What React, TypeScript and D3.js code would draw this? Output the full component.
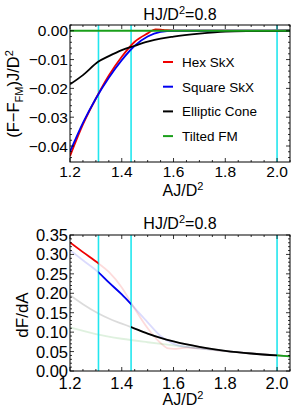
import * as d3 from "d3";

// ---- top panel: (F - F_FM) J/D^2 vs AJ/D^2 ----
const hexA = [1.2, 1.25, 1.3, 1.35, 1.4, 1.45, 1.5, 1.53, 1.56, 1.6, 1.7, 2.05];
const hexF = [-0.0435, -0.0325, -0.0235, -0.0155, -0.009, -0.0038, -0.0009, 0.0005, 0.0003, 0, 0, 0];
const sqA = [1.2, 1.25, 1.3, 1.35, 1.4, 1.45, 1.5, 1.55, 1.6, 1.7, 2.05];
const sqF = [-0.042, -0.032, -0.0235, -0.0163, -0.0102, -0.0052, -0.002, -0.0004, 0, 0, 0];
const coneA = [1.2, 1.25, 1.31, 1.35, 1.4, 1.45, 1.5, 1.55, 1.6, 1.7, 1.8, 1.9, 2.05];
const coneF = [-0.0186, -0.0154, -0.0107, -0.0088, -0.0067, -0.0052, -0.0038, -0.0027, -0.002, -0.001, -0.0003, -0.0001, 0];
const fmA = [1.2, 2.05];
const fmF = [0, 0];

// ---- bottom panel: dF/dA ----
const hexDA = [1.2, 1.25, 1.31, 1.35, 1.4, 1.45, 1.5, 1.55, 1.58, 1.6, 1.65, 1.7, 1.8, 1.9, 2.0, 2.05];
const hexD = [0.331, 0.306, 0.277, 0.255, 0.215, 0.16, 0.11, 0.072, 0.058, 0.057, 0.06, 0.058, 0.051, 0.045, 0.04, 0.038];
const sqDA = [1.2, 1.25, 1.31, 1.35, 1.4, 1.436, 1.5, 1.55, 1.6, 1.65, 1.7, 1.8, 1.9, 2.0, 2.05];
const sqD = [0.311, 0.285, 0.254, 0.228, 0.197, 0.172, 0.125, 0.09, 0.07, 0.062, 0.058, 0.051, 0.045, 0.04, 0.038];
const coneDA = [1.2, 1.25, 1.31, 1.35, 1.4, 1.436, 1.5, 1.55, 1.6, 1.7, 1.8, 1.9, 2.0, 2.05];
const coneD = [0.195, 0.172, 0.148, 0.135, 0.122, 0.113, 0.096, 0.085, 0.076, 0.062, 0.052, 0.045, 0.04, 0.038];
const fmDA = [1.2, 1.3, 1.4, 1.5, 1.6, 1.7, 1.8, 1.9, 2.0, 2.05];
const fmD = [0.112, 0.095, 0.083, 0.074, 0.066, 0.058, 0.051, 0.045, 0.04, 0.038];

// phase boundaries (cyan lines)
const boundaries = [1.31, 1.436, 2.0];

const seriesNames = ["Hex SkX", "Square SkX", "Elliptic Cone", "Tilted FM"];
const colors = ["#f00000", "#0000f0", "#000000", "#1a9f1a"];
const topSeries = [
  [hexA, hexF],
  [sqA, sqF],
  [coneA, coneF],
  [fmA, fmF],
];
const bottomSeries = [
  [hexDA, hexD],
  [sqDA, sqD],
  [coneDA, coneD],
  [fmDA, fmD],
];
// where each phase is the stable one
const stableRanges = [
  [1.2, 1.31],
  [1.31, 1.436],
  [1.436, 2.0],
  [2.0, 2.05],
];

const xTicks = [1.2, 1.4, 1.6, 1.8, 2.0];
const topYTicks = [0, -0.01, -0.02, -0.03, -0.04];
const bottomYTicks = [0, 0.05, 0.1, 0.15, 0.2, 0.25, 0.3, 0.35];

const FONT = "'Liberation Sans', Arial, sans-serif";
const L = 70, R = 290;

function Frame({ x, y, xMinor, yMinor, yMajor, yFmt, fs, labelY }) {
  const [x0, x1] = x.range();
  const [y0, y1] = y.range(); // y0 bottom, y1 top
  const ticks = [];
  xMinor.forEach((v, i) => {
    const major = xTicks.some((t) => Math.abs(t - v) < 1e-9);
    const len = major ? 4 : 2;
    const px = x(v);
    ticks.push(<line key={"xb" + i} x1={px} x2={px} y1={y0} y2={y0 - len} />);
    ticks.push(<line key={"xt" + i} x1={px} x2={px} y1={y1} y2={y1 + len} />);
  });
  yMinor.forEach((v, i) => {
    const major = yMajor.some((t) => Math.abs(t - v) < 1e-9);
    const len = major ? 4 : 2;
    const py = y(v);
    ticks.push(<line key={"yl" + i} x1={x0} x2={x0 + len} y1={py} y2={py} />);
    ticks.push(<line key={"yr" + i} x1={x1} x2={x1 - len} y1={py} y2={py} />);
  });
  return (
    <g>
      <g stroke="#000" strokeWidth={0.8}>{ticks}</g>
      <rect x={x0} y={y1} width={x1 - x0} height={y0 - y1} fill="none" stroke="#000" strokeWidth={1} />
      <g fontFamily={FONT} fontSize={fs} fill="#000">
        {xTicks.map((t) => (
          <text key={t} x={x(t)} y={labelY} textAnchor="middle">{t.toFixed(1)}</text>
        ))}
        {yMajor.map((t) => (
          <text key={t} x={x0 - 2} y={y(t) + fs * 0.36} textAnchor="end">{yFmt(t)}</text>
        ))}
      </g>
    </g>
  );
}

function range(a, b, step) {
  const out = [];
  for (let v = a; v <= b + 1e-9; v += step) out.push(+v.toFixed(4));
  return out;
}

export default function App() {
  const x = d3.scaleLinear().domain([1.2, 2.05]).range([L, R]);
  const yTop = d3.scaleLinear().domain([-0.04555, 0.002]).range([162, 25]);
  const yBot = d3.scaleLinear().domain([0, 0.35]).range([371, 235]);

  const line = (ys) =>
    d3.line<number[]>().x((d) => x(d[0])).y((d) => ys(d[1])).curve(d3.curveMonotoneX);

  const pts = ([a, v]) => a.map((ai, i) => [ai, v[i]]);
  const xMinor = range(1.2, 2.05, 0.05);
  const fmt2 = d3.format(".2f");

  return (
    <svg width={300} height={417} style={{ position: "absolute", left: 0, top: 0, background: "#fff" }}>
      <defs>
        <clipPath id="topClip">
          <rect x={L} y={25} width={R - L} height={137} />
        </clipPath>
        {stableRanges.map((r, i) => (
          <clipPath id={"stable" + i} key={i}>
            <rect x={x(r[0])} y={235} width={x(r[1]) - x(r[0])} height={136} />
          </clipPath>
        ))}
      </defs>

      {/* ---------- top panel ---------- */}
      <text x={180} y={20} textAnchor="middle" fontFamily={FONT} fontSize={16}>
        HJ/D<tspan dy={-6} fontSize={11}>2</tspan><tspan dy={6}>=0.8</tspan>
      </text>
      <g clipPath="url(#topClip)">
        {boundaries.map((b) => (
          <line key={b} x1={x(b)} x2={x(b)} y1={25} y2={162} stroke="#22e6ee" strokeWidth={1.6} />
        ))}
        {topSeries.map((s, i) => (
          <path key={i} d={line(yTop)(pts(s))} fill="none" stroke={colors[i]} strokeWidth={1.8} />
        ))}
      </g>
      <Frame
        x={x}
        y={yTop}
        xMinor={xMinor}
        yMinor={range(-0.044, 0.002, 0.002)}
        yMajor={topYTicks}
        yFmt={fmt2}
        fs={15.5}
        labelY={177}
      />
      <g fontFamily={FONT} fontSize={13.5}>
        {seriesNames.map((n, i) => {
          const cy = 62 + i * 24.7;
          return (
            <g key={n}>
              <line x1={163} x2={173} y1={cy} y2={cy} stroke={colors[i]} strokeWidth={2} />
              <text x={182} y={cy + 5}>{n}</text>
            </g>
          );
        })}
      </g>
      <text x={183} y={196} textAnchor="middle" fontFamily={FONT} fontSize={16}>
        AJ/D<tspan dy={-6} fontSize={11}>2</tspan>
      </text>
      <text transform="translate(19,94) rotate(-90)" textAnchor="middle" fontFamily={FONT} fontSize={16.5}>
        (F−F<tspan dy={4} fontSize={11}>FM</tspan><tspan dy={-4}>)J/D</tspan>
        <tspan dy={-6} fontSize={11}>2</tspan>
      </text>

      {/* ---------- bottom panel ---------- */}
      <text x={180} y={229} textAnchor="middle" fontFamily={FONT} fontSize={16}>
        HJ/D<tspan dy={-6} fontSize={11}>2</tspan><tspan dy={6}>=0.8</tspan>
      </text>
      {bottomSeries.map((s, i) => (
        <path key={"f" + i} d={line(yBot)(pts(s))} fill="none" stroke={colors[i]} strokeOpacity={0.14} strokeWidth={1.8} />
      ))}
      {boundaries.map((b) => (
        <line key={b} x1={x(b)} x2={x(b)} y1={235} y2={371} stroke="#22e6ee" strokeWidth={1.6} />
      ))}
      {bottomSeries.map((s, i) => (
        <path
          key={"s" + i}
          d={line(yBot)(pts(s))}
          fill="none"
          stroke={colors[i]}
          strokeWidth={1.8}
          clipPath={`url(#stable${i})`}
        />
      ))}
      <Frame
        x={x}
        y={yBot}
        xMinor={xMinor}
        yMinor={range(0, 0.35, 0.01)}
        yMajor={bottomYTicks}
        yFmt={fmt2}
        fs={16.5}
        labelY={389}
      />
      <text x={183} y={405} textAnchor="middle" fontFamily={FONT} fontSize={16}>
        AJ/D<tspan dy={-6} fontSize={11}>2</tspan>
      </text>
      <text transform="translate(28,315) rotate(-90)" textAnchor="middle" fontFamily={FONT} fontSize={17}>
        dF/dA
      </text>
    </svg>
  );
}
